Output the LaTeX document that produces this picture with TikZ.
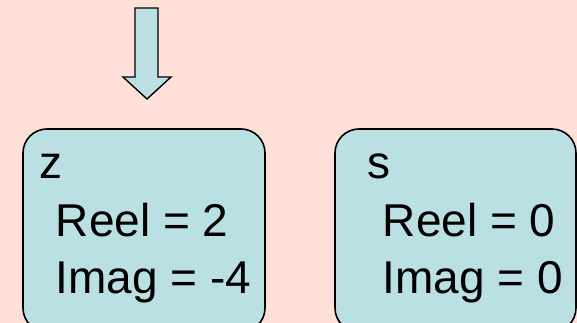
\documentclass[tikz,border=0pt]{standalone}
\usepackage{fontspec}
\setmainfont{Liberation Sans}
\usepackage{tikz}

\definecolor{bgpink}{RGB}{255,224,216}
\definecolor{boxblue}{RGB}{186,224,227}

\begin{document}
\begin{tikzpicture}[x = 1pt, y = -1pt, line width = 1.6pt,
                    var/.style = {draw, fill = boxblue, rounded corners = 24pt},
                    txt/.style = {anchor = base west, inner sep = 0pt,
                                  font = \fontsize{46}{55}\selectfont}]
      \fill [bgpink] (0, 0) rectangle (577, 323);
      \useasboundingbox (0, 0) rectangle (577, 323);
      \clip (0, 0) rectangle (577, 323);

      % pointer arrow
      \draw [fill = boxblue, line width = 1.4pt, line join = miter]
            (135, 8) -- (158, 8) -- (158, 77) -- (171, 77) -- (147, 99)
            -- (123, 77) -- (135, 77) -- cycle;

      % variable z
      \draw [var] (23, 129) rectangle (265, 332);
      \node [txt] (zname) at (39, 178) {z};
      \node [txt] (zre) at (55, 236) {Reel = 2};
      \node [txt] (zim) at (55, 293) {Imag = -4};

      % variable s
      \draw [var] (335, 129) rectangle (576, 332);
      \node [txt] (sname) at (367, 178) {s};
      \node [txt] (sre) at (382, 236) {Reel = 0};
      \node [txt] (sim) at (382, 293) {Imag = 0};
\end{tikzpicture}
\end{document}
